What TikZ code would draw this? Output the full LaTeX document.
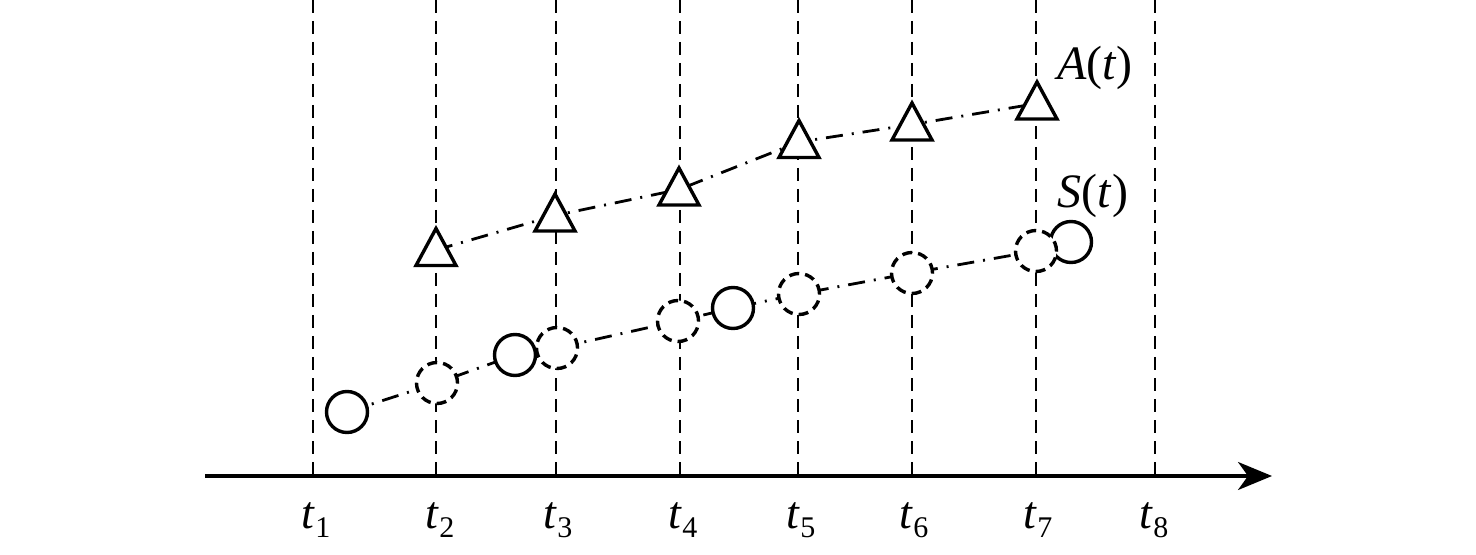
\documentclass[tikz,border=0pt]{standalone}
\usepackage{fontspec}
\setmainfont{Liberation Serif}
\usetikzlibrary{arrows.meta}
\newcommand\mytri[1]{\draw[tri] ([shift={(0,-21.5)}]#1) -- ([shift={(20,15.5)}]#1) -- ([shift={(-20,15.5)}]#1) -- cycle;}
\begin{document}
\begin{tikzpicture}[x=0.5pt,y=-0.5pt,
 vline/.style={line width=1.4pt, dash pattern=on 6.5pt off 4pt},
 axisline/.style={line width=1.6pt,-{Stealth[length=17pt,width=14pt,inset=5pt]}},
 link/.style={line width=1.4pt, dash pattern=on 8.5pt off 4.5pt on 1pt off 4.5pt},
 solidc/.style={circle,draw,fill=white,line width=1.7pt,minimum size=20.5pt,inner sep=0pt},
 dashc/.style={solidc, dash pattern=on 5pt off 3pt},
 tri/.style={draw,fill=white,line width=1.7pt,line join=miter},
 lab/.style={font=\fontsize{24}{28}\selectfont, anchor=base, inner sep=0pt},
 tlab/.style={font=\fontsize{23}{28}\selectfont, anchor=base, inner sep=0pt}]
\useasboundingbox (0,0) rectangle (1476,555);
% vertical dashed lines
\foreach \i/\x in {1/313,2/436,3/556,4/680,5/798,6/912,7/1036,8/1155}{
  \coordinate (vt\i) at (\x,0);
  \coordinate (vb\i) at (\x,476);
  \draw[vline] (vt\i) -- (vb\i);
}
% axis
\coordinate (ax0) at (205,476);
\coordinate (ax1) at (1272,476);
\draw[axisline] (ax0) -- (ax1);
% triangle anchor points
\coordinate (a2) at (436,250);
\coordinate (a3) at (555,215.5);
\coordinate (a4) at (679,189.5);
\coordinate (a5) at (799,142);
\coordinate (a6) at (912,124.5);
\coordinate (a7) at (1037,103.5);
\draw[link] (a2) -- (a3) -- (a4) -- (a5) -- (a6) -- (a7);
% circle centres
\coordinate (s1) at (347,412);
\coordinate (d2) at (437,383);
\coordinate (s2) at (515,355);
\coordinate (d3) at (557,348);
\coordinate (d4) at (678,321);
\coordinate (s3) at (733,308);
\coordinate (d5) at (799,294);
\coordinate (d6) at (912,273);
\coordinate (d7) at (1036,251);
\coordinate (s4) at (1071,242);
\draw[link] (s1) -- (d2) -- (s2) -- (d3) -- (d4) -- (s3) -- (d5) -- (d6) -- (d7) -- (s4);
% triangles
\mytri{a2}\mytri{a3}\mytri{a4}\mytri{a5}\mytri{a6}\mytri{a7}
% solid circles
\foreach \n in {s1,s2,s3,s4}{\node[solidc] (c\n) at (\n) {};}
% dashed circles
\foreach \n in {d2,d3,d4,d5,d6,d7}{\node[dashc] (c\n) at (\n) {};}
% labels
\node[lab] (la) at (1095,80) {\itshape A\upshape(\itshape t\/\upshape)};
\node[lab] (ls) at (1093,208) {\itshape S\upshape(\itshape t\/\upshape)};
\foreach \i/\x in {1/316,2/440,3/558,4/683,5/801,6/914,7/1038,8/1154}{
  \node[tlab] (lt\i) at (\x,528) {\itshape t\/\raisebox{-4.5pt}{\fontsize{15}{15}\selectfont\upshape \i}};
}
\end{tikzpicture}
\end{document}
